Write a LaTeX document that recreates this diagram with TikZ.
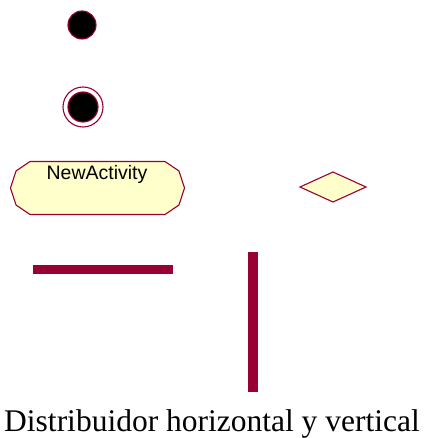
\documentclass[tikz,border=0pt]{standalone}
\usepackage{fontspec}
\setmainfont{Liberation Serif}
\newfontfamily\armfont{Liberation Sans}
\definecolor{umlred}{HTML}{990033}
\definecolor{umlfill}{HTML}{FFFFCC}
\begin{document}
\begin{tikzpicture}[x=1pt,y=-1pt,
  edgecol/.style={draw=umlred,line width=1.1pt},
  bar/.style={fill=umlred,draw=none},
  ]
\useasboundingbox (0,0) rectangle (425,438);
% initial state
\node[circle,fill=black,edgecol,minimum size=28pt,inner sep=0pt] (init) at (82,25) {};
% final state
\node[circle,edgecol,fill=white,minimum size=40pt,inner sep=0pt] (final) at (83,107) {};
\node[circle,fill=black,edgecol,minimum size=30pt,inner sep=0pt] (finalin) at (83,107) {};
% activity
\path[fill=umlfill,edgecol] (30,161.5) -- (165,161.5) -- (179,171) -- (184.5,188) -- (179,205) -- (165,214.5)
  -- (30,214.5) -- (16,205) -- (10.5,188) -- (16,171) -- cycle;
\node[anchor=base,inner sep=0pt,font=\armfont\fontsize{19.5}{22}\selectfont] (act) at (97,180) {NewActivity};
% decision
\path[fill=umlfill,edgecol] (300,187) -- (333,172) -- (366,187) -- (333,202) -- cycle;
\coordinate (dec) at (333,187);
% horizontal and vertical synchronisation bars
\fill[bar] (33,265) rectangle (173,274);
\fill[bar] (248,252) rectangle (258,392);
% caption
\node[anchor=base,inner sep=0pt,font=\fontsize{31.5}{36}\selectfont] (cap) at (212,431.5) {Distribuidor horizontal y vertical};
\end{tikzpicture}
\end{document}
